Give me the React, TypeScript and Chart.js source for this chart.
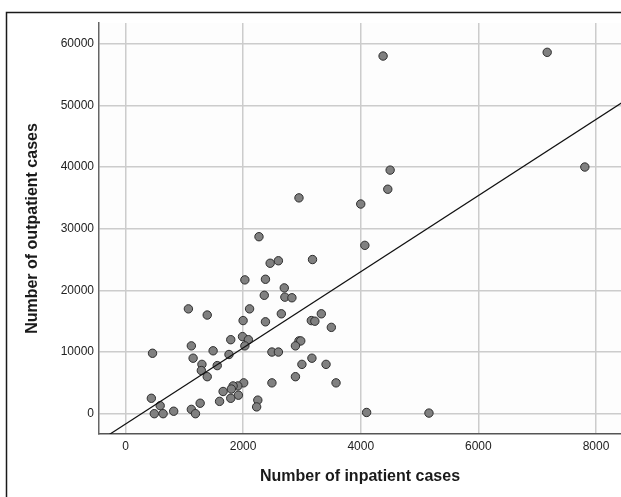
import React, { useEffect, useRef } from "react";
import { Chart, registerables } from "chart.js";

Chart.register(...registerables);

const inpatientCases = [
  4380, 7170, 7810, 4500, 4460, 2950, 4000, 4070, 2270, 3180, 2600, 2460,
  2380, 2030, 2700, 2360, 2710, 2830, 1070, 2110, 1390, 2650, 3330, 2000,
  2380, 3160, 3220, 3500, 1990, 1790, 2090, 2950, 2980, 1120, 2030, 2890,
  1490, 2490, 2600, 460, 1760, 1150, 3170, 1300, 3000, 3410, 1560, 1290,
  1390, 2890, 2010, 2490, 3580, 1910, 1830, 1800, 1660, 1920, 440, 1790,
  2250, 1600, 1270, 590, 2230, 1120, 820, 490, 640, 1190, 4100, 5160,
];

const outpatientCases = [
  58000, 58600, 40000, 39500, 36400, 35000, 34000, 27300, 28700, 25000, 24800, 24400,
  21800, 21700, 20400, 19200, 18900, 18800, 17000, 17000, 16000, 16200, 16200, 15100,
  14900, 15100, 15000, 14000, 12500, 12000, 12000, 11800, 11800, 11000, 11000, 11000,
  10200, 10000, 10000, 9800, 9600, 9000, 9000, 8000, 8000, 8000, 7800, 7000,
  6000, 6000, 5000, 5000, 5000, 4500, 4500, 4000, 3600, 3000, 2500, 2500,
  2200, 2000, 1700, 1300, 1100, 700, 400, 0, 0, 0, 200, 100,
];

const fitIntercept = -1680;
const fitSlope = 6.176;
const fitLineX = [-600, 8600];

const xTicks = [0, 2000, 4000, 6000, 8000];
const yTicks = [0, 10000, 20000, 30000, 40000, 50000, 60000];

const xTitle = "Number of inpatient cases";
const yTitle = "Number of outpatient cases";

const framePlugin = {
  id: "frame",
  beforeDraw(chart: any) {
    const { ctx, chartArea, width, height } = chart;
    ctx.save();
    ctx.fillStyle = "#ffffff";
    ctx.fillRect(0, 0, width, height);
    ctx.fillStyle = "#fdfdfd";
    ctx.fillRect(chartArea.left, chartArea.top, chartArea.right - chartArea.left, chartArea.bottom - chartArea.top);
    ctx.restore();
  },
  afterDraw(chart: any) {
    const { ctx, width, height } = chart;
    ctx.save();
    ctx.strokeStyle = "#1a1a1a";
    ctx.lineWidth = 1.5;
    ctx.beginPath();
    ctx.moveTo(6.5, height);
    ctx.lineTo(6.5, 12.5);
    ctx.lineTo(width, 12.5);
    ctx.stroke();
    ctx.restore();
  },
};

export default function App() {
  const ref = useRef<HTMLCanvasElement | null>(null);

  useEffect(() => {
    document.body.style.margin = "0";
    document.body.style.overflow = "hidden";
    const canvas = ref.current;
    if (!canvas) return;
    const points = inpatientCases.map((x, i) => ({ x, y: outpatientCases[i] }));
    const fit = fitLineX.map((x) => ({ x, y: fitIntercept + fitSlope * x }));
    const tickFont = { family: "'Liberation Sans', Arial, sans-serif", size: 12 };
    const titleFont = { family: "'Liberation Sans', Arial, sans-serif", size: 16, weight: "bold" as const };
    const chart = new Chart(canvas, {
      type: "scatter",
      data: {
        datasets: [
          {
            data: points,
            backgroundColor: "#808080",
            borderColor: "#2e2e2e",
            borderWidth: 1,
            pointRadius: 4.2,
            pointHoverRadius: 4.2,
            order: 1,
          },
          {
            data: fit,
            showLine: true,
            borderColor: "#111111",
            borderWidth: 1.2,
            pointRadius: 0,
            fill: false,
            order: 0,
          } as any,
        ],
      },
      plugins: [framePlugin],
      options: {
        responsive: false,
        animation: false,
        devicePixelRatio: 1,
        layout: { autoPadding: false, padding: { left: 0, right: 0, top: 23, bottom: 0 } },
        plugins: { legend: { display: false }, tooltip: { enabled: false } },
        scales: {
          x: {
            type: "linear",
            min: -450,
            max: 8425,
            afterBuildTicks: (scale: any) => {
              scale.ticks = xTicks.map((v) => ({ value: v }));
            },
            afterFit: (scale: any) => {
              scale.height = 63;
              scale.paddingLeft = 0;
              scale.paddingRight = 0;
            },
            grid: { color: "#cccccc", lineWidth: 1.5, drawTicks: false },
            border: { display: true, color: "#555555", width: 1.5 },
            ticks: {
              font: tickFont,
              color: "#222222",
              padding: 5,
              maxRotation: 0,
              callback: (v: any) => String(v),
            },
            title: {
              display: true,
              text: xTitle,
              font: titleFont,
              color: "#1a1a1a",
              padding: { top: 0, bottom: 11 },
            },
          },
          y: {
            type: "linear",
            min: -3292,
            max: 63357,
            afterBuildTicks: (scale: any) => {
              scale.ticks = yTicks.map((v) => ({ value: v }));
            },
            afterFit: (scale: any) => {
              scale.width = 99;
              scale.paddingTop = 0;
              scale.paddingBottom = 0;
            },
            grid: { color: "#cccccc", lineWidth: 1.5, drawTicks: false },
            border: { display: true, color: "#666666", width: 1.5 },
            ticks: {
              font: tickFont,
              color: "#222222",
              padding: 5,
              callback: (v: any) => String(v),
            },
            title: {
              display: true,
              text: yTitle,
              font: titleFont,
              color: "#1a1a1a",
              padding: { top: 23, bottom: 0 },
            },
          },
        },
      },
    });
    return () => chart.destroy();
  }, []);

  return <canvas ref={ref} width={621} height={497} style={{ display: "block" }} />;
}
